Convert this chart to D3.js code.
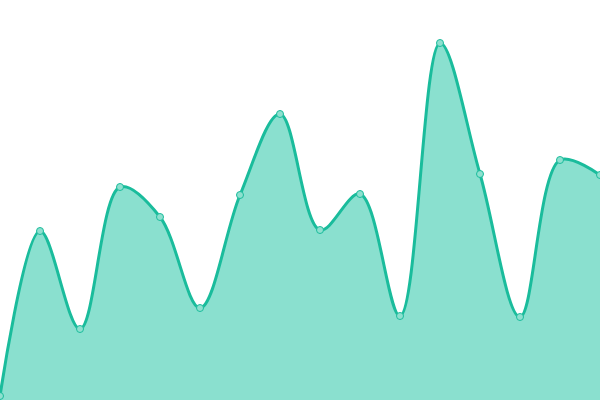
<!DOCTYPE html>
<meta charset="utf-8">
<script src="https://d3js.org/d3.v7.min.js"></script>
<style>
  body { margin: 0; background: #fff; }
</style>
<div id="chart"></div>
<script>
    // data
    const labels = d3.range(16);
    const values = [4, 169, 71, 213, 183, 92, 205, 286, 170, 206, 84, 357, 226, 83, 240, 225];

    const width = 600, height = 400;

    const svg = d3.select("#chart")
        .append("svg")
        .attr("width", width)
        .attr("height", height);

    const x = d3.scaleLinear()
        .domain([0, labels.length - 1])
        .range([0, width]);

    const y = d3.scaleLinear()
        .domain([0, 400])
        .range([height, 0]);

    const data = labels.map((d, i) => ({ x: d, v: values[i] }));

    const area = d3.area()
        .x(d => x(d.x))
        .y0(height)
        .y1(d => y(d.v))
        .curve(d3.curveCatmullRom);

    const line = d3.line()
        .x(d => x(d.x))
        .y(d => y(d.v))
        .curve(d3.curveCatmullRom);

    svg.append("path")
        .datum(data)
        .attr("fill", "#8ae0cf")
        .attr("d", area);

    svg.append("path")
        .datum(data)
        .attr("fill", "none")
        .attr("stroke", "#1abc9c")
        .attr("stroke-width", 3)
        .attr("d", line);

    svg.selectAll("circle")
        .data(data)
        .enter()
        .append("circle")
        .attr("cx", d => x(d.x))
        .attr("cy", d => y(d.v))
        .attr("r", 3.5)
        .attr("fill", "#8ee0cf")
        .attr("stroke", "#1abc9c")
        .attr("stroke-width", 1);
</script>
